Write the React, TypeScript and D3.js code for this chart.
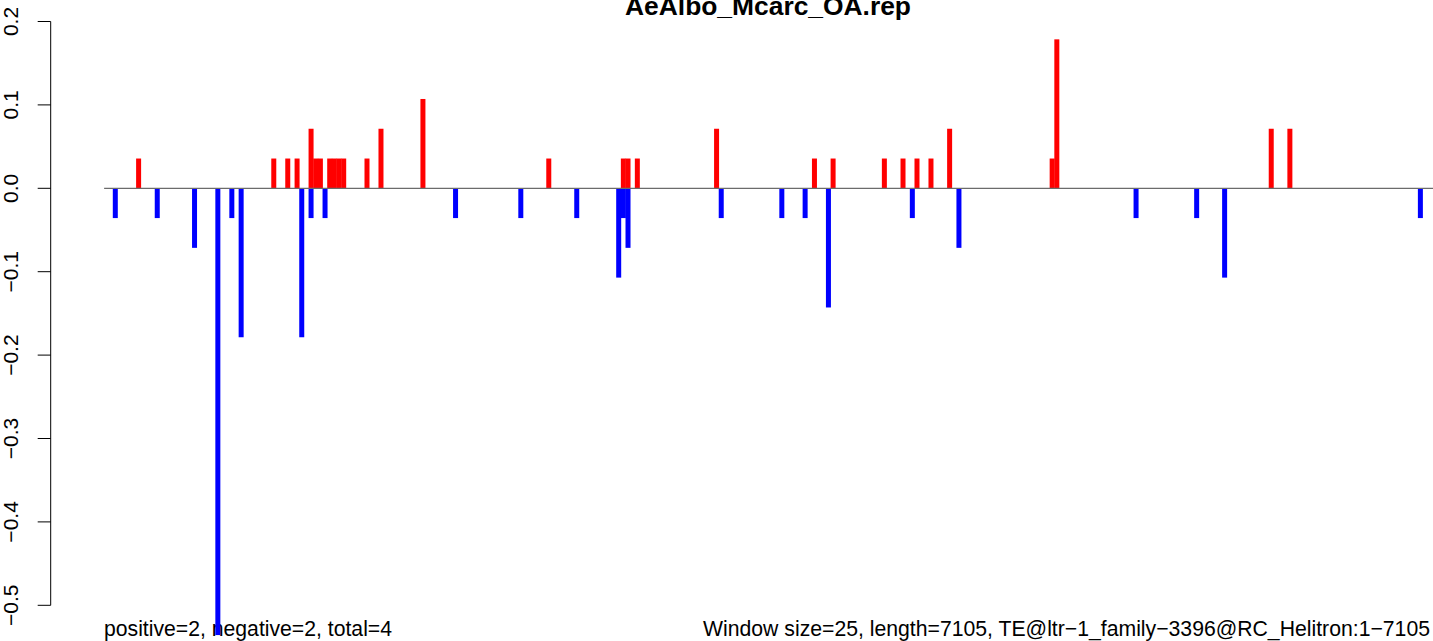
import React from "react";
import * as d3 from "d3";

const W = 1433;
const H = 641;

const titleText = "AeAlbo_Mcarc_OA.rep";
const leftNote = "positive=2, negative=2, total=4";
const rightNote = "Window size=25, length=7105, TE@ltr\u22121_family\u22123396@RC_Helitron:1\u22127105";

// window index of each positive bar and its value
const posWindows = [7, 36, 39, 41, 44, 45, 46, 48, 49, 50, 51, 56, 59, 68, 95, 111, 112, 114, 131, 152, 156, 167, 171, 174, 177, 181, 203, 204, 250, 254];
const posValues = [0.0357, 0.0357, 0.0357, 0.0357, 0.0714, 0.0357, 0.0357, 0.0357, 0.0357, 0.0357, 0.0357, 0.0357, 0.0714, 0.1071, 0.0357, 0.0357, 0.0357, 0.0357, 0.0714, 0.0357, 0.0357, 0.0357, 0.0357, 0.0357, 0.0357, 0.0714, 0.0357, 0.1786, 0.0714, 0.0714];

// window index of each negative bar and its value
const negWindows = [2, 11, 19, 24, 27, 29, 42, 44, 47, 75, 89, 101, 110, 111, 112, 132, 145, 150, 155, 173, 183, 221, 234, 240, 282];
const negValues = [-0.0357, -0.0357, -0.0714, -0.5357, -0.0357, -0.1786, -0.1786, -0.0357, -0.0357, -0.0357, -0.0357, -0.0357, -0.1071, -0.0357, -0.0714, -0.0357, -0.0357, -0.0357, -0.1429, -0.0357, -0.0714, -0.0357, -0.0357, -0.1071, -0.0357];

const yTicks = [0.2, 0.1, 0.0, -0.1, -0.2, -0.3, -0.4, -0.5];
const yTickLabels = ["0.2", "0.1", "0.0", "\u22120.1", "\u22120.2", "\u22120.3", "\u22120.4", "\u22120.5"];

const FONT = "'Liberation Sans', Arial, Helvetica, sans-serif";

export default function App() {
  const x = d3.scaleLinear().domain([0, 300]).range([105.98, 105.98 + 300 * 4.661]);
  const y = d3.scaleLinear().domain([-0.5, 0.2]).range([605.3, 21.5]);
  const barW = 5;
  const axisX = 50.7;
  const tickLen = 13;

  return (
    <svg
      width={W}
      height={H}
      viewBox={`0 0 ${W} ${H}`}
      style={{ position: "absolute", left: 0, top: 0, background: "#fff" }}
      fontFamily={FONT}
    >
      <rect x={0} y={0} width={W} height={H} fill="#fff" />
      {/* title */}
      <text x={768} y={15} textAnchor="middle" fontSize={26.4} fontWeight="bold" fill="#000">
        {titleText}
      </text>

      {/* y axis */}
      <line x1={axisX} x2={axisX} y1={y(yTicks[0])} y2={y(yTicks[yTicks.length - 1])} stroke="#000" strokeWidth={1} />
      {yTicks.map((t, i) => (
        <g key={i}>
          <line x1={axisX - tickLen} x2={axisX} y1={y(t)} y2={y(t)} stroke="#000" strokeWidth={1} />
          <text
            transform={`translate(18, ${y(t)}) rotate(-90)`}
            textAnchor="middle"
            fontSize={21}
            fill="#000"
          >
            {yTickLabels[i]}
          </text>
        </g>
      ))}

      {/* bottom notes */}
      <text x={104} y={636} fontSize={21.2} fill="#000">
        {leftNote}
      </text>
      <text x={703} y={636} fontSize={21.2} fill="#000" textLength={727} lengthAdjust="spacingAndGlyphs">
        {rightNote}
      </text>

      {/* bars */}
      {posWindows.map((w, i) => (
        <rect
          key={`p${i}`}
          x={x(w) - barW / 2}
          width={barW}
          y={y(posValues[i])}
          height={y(0) - y(posValues[i])}
          fill="#FF0000"
        />
      ))}
      {negWindows.map((w, i) => (
        <rect
          key={`n${i}`}
          x={x(w) - barW / 2}
          width={barW}
          y={y(0)}
          height={y(negValues[i]) - y(0)}
          fill="#0000FF"
        />
      ))}

      {/* zero line */}
      <line x1={x(-0.4)} x2={W} y1={y(0)} y2={y(0)} stroke="#6b6b6b" strokeWidth={1.2} />
    </svg>
  );
}
